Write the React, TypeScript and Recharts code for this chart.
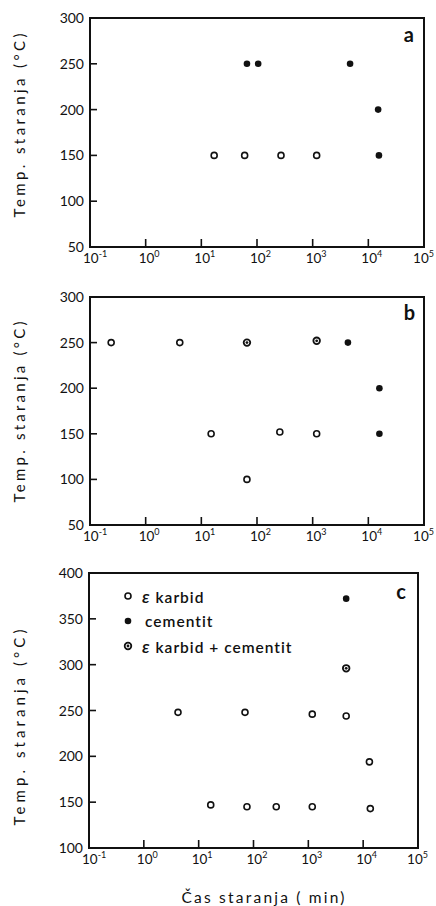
import React from 'react';
import { ScatterChart, Scatter, XAxis, YAxis, ReferenceArea, Legend } from 'recharts';

const X_TICKS = [0.1, 1, 10, 100, 1000, 10000, 100000];
const X_EXPONENTS = ['-1', '0', '1', '2', '3', '4', '5'];
const Y_TICKS_AB = [50, 100, 150, 200, 250, 300];
const Y_TICKS_C = [100, 150, 200, 250, 300, 350, 400];

const SERIES_NAMES = ['ε karbid', 'cementit', 'ε karbid + cementit'];

// panel a
const A_KARBID_TIME = [17, 60, 270, 1180];
const A_KARBID_TEMP = [150, 150, 150, 150];
const A_CEMENTIT_TIME = [66, 105, 4700, 15000, 15500];
const A_CEMENTIT_TEMP = [250, 250, 250, 200, 150];

// panel b
const B_KARBID_TIME = [0.24, 4.1, 15, 257, 1180, 66];
const B_KARBID_TEMP = [250, 250, 150, 152, 150, 100];
const B_CEMENTIT_TIME = [4300, 15800, 15800];
const B_CEMENTIT_TEMP = [250, 200, 150];
const B_MIXED_TIME = [66, 1180];
const B_MIXED_TEMP = [250, 252];

// panel c
const C_KARBID_TIME = [4.2, 70, 1180, 4900, 13000, 16.6, 76, 260, 1180, 13500];
const C_KARBID_TEMP = [248, 248, 246, 244, 194, 147, 145, 145, 145, 143];
const C_CEMENTIT_TIME = [4900];
const C_CEMENTIT_TEMP = [372];
const C_MIXED_TIME = [4900];
const C_MIXED_TEMP = [296];

const FONT = 'Lato, "DejaVu Sans", sans-serif';
const INK = '#111';

const toPoints = (time: number[], temp: number[]) => time.map((t, i) => ({ time: t, temp: temp[i] }));

const OpenDot = (p: any) => (
  <circle cx={p.cx} cy={p.cy} r={3} fill="#fff" stroke={INK} strokeWidth={1.6} />
);
const FilledDot = (p: any) => <circle cx={p.cx} cy={p.cy} r={3.3} fill={INK} />;
const MixedDot = (p: any) => (
  <g>
    <circle cx={p.cx} cy={p.cy} r={3.3} fill="#fff" stroke={INK} strokeWidth={1.8} />
    <circle cx={p.cx} cy={p.cy} r={1.4} fill={INK} />
  </g>
);
const SHAPES = [OpenDot, FilledDot, MixedDot];

const XTick = (props: any) => {
  const { x, y, payload } = props;
  const idx = X_TICKS.indexOf(payload.value);
  const last = idx === X_TICKS.length - 1;
  return (
    <g>
      {idx > 0 && !last && (
        <line x1={x} x2={x} y1={y} y2={y - 8} stroke={INK} strokeWidth={1.6} />
      )}
      <text
        x={last ? x + 10 : x - 7}
        y={y + 16}
        textAnchor={last ? 'end' : 'start'}
        fontSize={13.5}
        fill={INK}
        fontFamily={FONT}
      >
        10
        <tspan dy={-6} fontSize={9}>
          {X_EXPONENTS[idx]}
        </tspan>
      </text>
    </g>
  );
};

const YTick = (props: any) => {
  const { x, y, payload } = props;
  return (
    <g>
      <line x1={x} x2={x + 7} y1={y} y2={y} stroke={INK} strokeWidth={1.6} />
      <text x={x - 6} y={y + 5} textAnchor="end" fontSize={14} fill={INK} fontFamily={FONT}>
        {payload.value}
      </text>
    </g>
  );
};

const renderLegend = (props: any) => {
  const payload = [...(props.payload || [])].sort(
    (a: any, b: any) => SERIES_NAMES.indexOf(a.value) - SERIES_NAMES.indexOf(b.value)
  );
  return (
    <div style={{ fontFamily: FONT, fontSize: 15.5, fontWeight: 600, letterSpacing: 1, color: INK }}>
      {payload.map((entry: any, i: number) => {
        const k = SERIES_NAMES.indexOf(entry.value);
        const Shape = SHAPES[k < 0 ? i : k];
        const label = entry.value as string;
        return (
          <div key={label} style={{ height: 25, display: 'flex', alignItems: 'center' }}>
            <svg width={14} height={14}>
              <Shape cx={7} cy={7} />
            </svg>
            <span style={{ marginLeft: label.startsWith('ε') ? 7 : 10, whiteSpace: 'nowrap' }}>
              {label.startsWith('ε') ? (
                <>
                  <span style={{ fontStyle: 'italic', fontSize: 18 }}>ε</span>
                  {label.slice(1)}
                </>
              ) : (
                label
              )}
            </span>
          </div>
        );
      })}
    </div>
  );
};

interface PanelProps {
  top: number;
  height: number;
  margin: { top: number; right: number; left: number; bottom: number };
  yWidth: number;
  xHeight: number;
  yTicks: number[];
  letter: string;
  letterOffset: number;
  titleDy: number;
  titleLength: number;
  series: { name: string; data: { time: number; temp: number }[]; shape: any }[];
  xTitle?: boolean;
  legend?: boolean;
}

const Panel = (p: PanelProps) => {
  const yMin = p.yTicks[0];
  const yMax = p.yTicks[p.yTicks.length - 1];
  return (
    <div style={{ position: 'absolute', left: 0, top: p.top, width: 436, height: p.height }}>
      <ScatterChart width={436} height={p.height} margin={p.margin}>
        <XAxis
          dataKey="time"
          type="number"
          scale="log"
          domain={[0.1, 100000]}
          ticks={X_TICKS}
          interval={0}
          allowDataOverflow
          height={p.xHeight}
          tickSize={0}
          tickMargin={0}
          tick={XTick}
          axisLine={{ stroke: INK, strokeWidth: 2 }}
          label={
            p.xTitle
              ? {
                  content: () => (
                    <text
                      x={263}
                      y={348}
                      textAnchor="middle"
                      fontSize={15.5}
                      fill={INK}
                      fontFamily={FONT}
                      textLength={163}
                      lengthAdjust="spacing"
                    >
                      Čas staranja ( min)
                    </text>
                  ),
                }
              : undefined
          }
        />
        <YAxis
          dataKey="temp"
          type="number"
          domain={[yMin, yMax]}
          ticks={p.yTicks}
          interval={0}
          width={p.yWidth}
          tickSize={0}
          tickMargin={0}
          tick={YTick}
          axisLine={{ stroke: INK, strokeWidth: 2 }}
          label={{
            content: (lp: any) => {
              const vb = lp.viewBox || { y: 0, height: 0 };
              const cy = vb.y + vb.height / 2 + p.titleDy;
              return (
                <text
                  x={19}
                  y={cy}
                  transform={`rotate(-90 19 ${cy})`}
                  textAnchor="middle"
                  dominantBaseline="central"
                  fontSize={15}
                  fill={INK}
                  fontFamily={FONT}
                  textLength={p.titleLength}
                  lengthAdjust="spacing"
                >
                  Temp. staranja  (°C)
                </text>
              );
            },
          }}
        />
        <ReferenceArea
          x1={0.1}
          x2={100000}
          y1={yMin}
          y2={yMax}
          fill="none"
          stroke={INK}
          strokeWidth={2}
          ifOverflow="visible"
          label={{
            value: p.letter,
            position: 'insideTopRight',
            offset: p.letterOffset,
            fontSize: 20,
            fontWeight: 700,
            fill: INK,
            fontFamily: FONT,
          }}
        />
        {p.series.map((s) => (
          <Scatter
            key={s.name}
            name={s.name}
            data={s.data}
            shape={s.shape}
            fill={INK}
            isAnimationActive={false}
          />
        ))}
        {p.legend && (
          <Legend
            layout="vertical"
            align="center"
            verticalAlign="middle"
            content={renderLegend}
            wrapperStyle={{ left: 121, top: 28, width: 260 }}
          />
        )}
      </ScatterChart>
    </div>
  );
};

export default function App() {
  return (
    <div style={{ position: 'absolute', left: 0, top: 0, width: 436, height: 906, background: '#fff' }}>
      <Panel
        top={0}
        height={280}
        margin={{ top: 18, right: 12, left: 0, bottom: 0 }}
        yWidth={90}
        xHeight={33}
        yTicks={Y_TICKS_AB}
        letter="a"
        letterOffset={10}
        titleDy={-7}
        titleLength={184}
        series={[
          { name: SERIES_NAMES[0], data: toPoints(A_KARBID_TIME, A_KARBID_TEMP), shape: OpenDot },
          { name: SERIES_NAMES[1], data: toPoints(A_CEMENTIT_TIME, A_CEMENTIT_TEMP), shape: FilledDot },
        ]}
      />
      <Panel
        top={280}
        height={275}
        margin={{ top: 17, right: 12, left: 0, bottom: 0 }}
        yWidth={90}
        xHeight={30}
        yTicks={Y_TICKS_AB}
        letter="b"
        letterOffset={9}
        titleDy={1}
        titleLength={181}
        series={[
          { name: SERIES_NAMES[0], data: toPoints(B_KARBID_TIME, B_KARBID_TEMP), shape: OpenDot },
          { name: SERIES_NAMES[1], data: toPoints(B_CEMENTIT_TIME, B_CEMENTIT_TEMP), shape: FilledDot },
          { name: SERIES_NAMES[2], data: toPoints(B_MIXED_TIME, B_MIXED_TEMP), shape: MixedDot },
        ]}
      />
      <Panel
        top={555}
        height={351}
        margin={{ top: 18, right: 18, left: 0, bottom: 0 }}
        yWidth={89}
        xHeight={58}
        yTicks={Y_TICKS_C}
        letter="c"
        letterOffset={12}
        titleDy={17}
        titleLength={196}
        xTitle
        legend
        series={[
          { name: SERIES_NAMES[0], data: toPoints(C_KARBID_TIME, C_KARBID_TEMP), shape: OpenDot },
          { name: SERIES_NAMES[1], data: toPoints(C_CEMENTIT_TIME, C_CEMENTIT_TEMP), shape: FilledDot },
          { name: SERIES_NAMES[2], data: toPoints(C_MIXED_TIME, C_MIXED_TEMP), shape: MixedDot },
        ]}
      />
    </div>
  );
}
